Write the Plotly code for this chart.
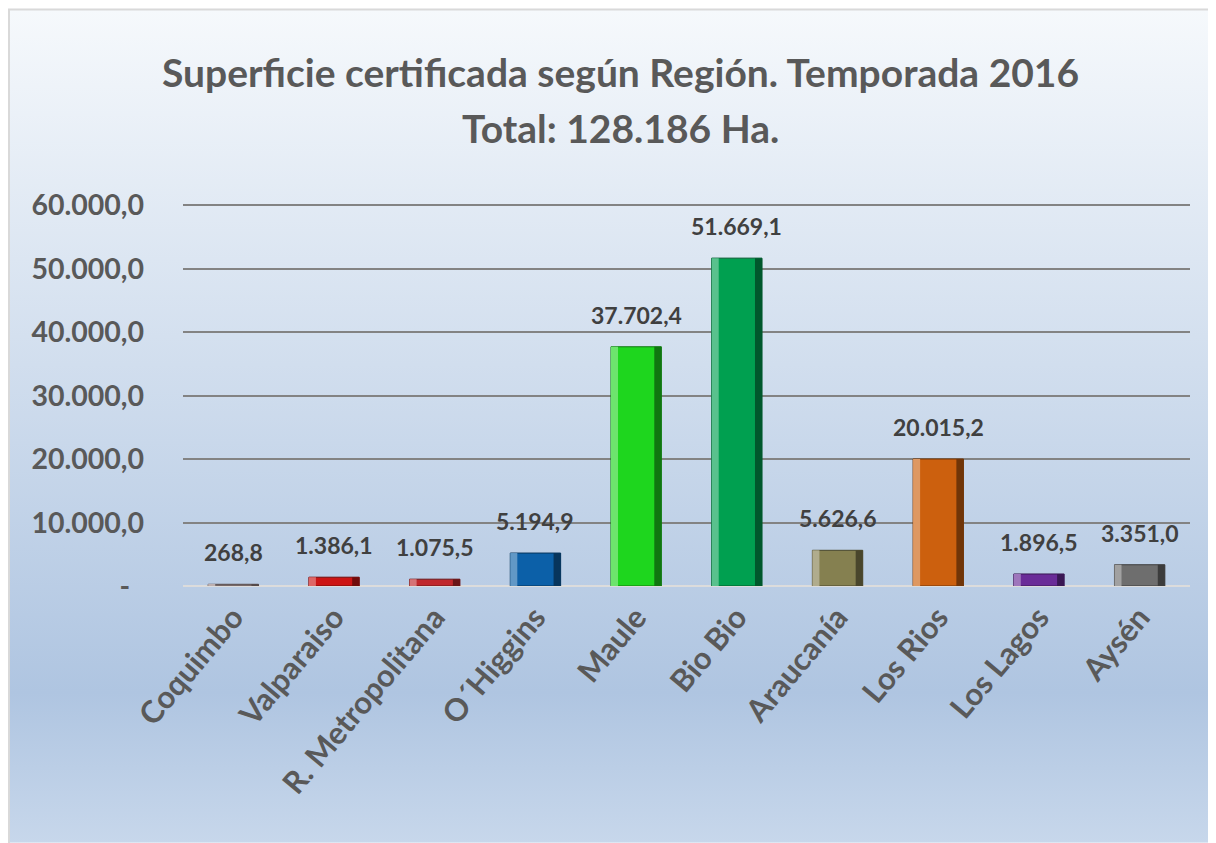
import base64
import plotly.graph_objects as go

categories = ["Coquimbo", "Valparaiso", "R. Metropolitana", "O´Higgins", "Maule",
              "Bio Bio", "Araucanía", "Los Rios", "Los Lagos", "Aysén"]
values = [268.8, 1386.1, 1075.5, 5194.9, 37702.4, 51669.1, 5626.6, 20015.2, 1896.5, 3351.0]
bar_colors = ["#9a8686", "#cc1414", "#c0282c", "#0c60a8", "#1ed61e",
              "#00a050", "#858050", "#cc600e", "#6a2c98", "#6e6e6e"]
tick_vals = [0, 10000, 20000, 30000, 40000, 50000, 60000]
tick_text = ["-\u00a0\u00a0", "10.000,0", "20.000,0", "30.000,0", "40.000,0", "50.000,0", "60.000,0"]
title_lines = ["Superficie certificada según Región. Temporada 2016", "Total: 128.186 Ha."]


def fmt(v):
    s = f"{v:,.1f}"
    return s.replace(",", "X").replace(".", ",").replace("X", ".")


def mix(hexc, target, t):
    h = hexc.lstrip("#")
    rgb = [int(h[i:i + 2], 16) for i in (0, 2, 4)]
    out = [round(c + (target - c) * t) for c in rgb]
    return "#%02x%02x%02x" % tuple(out)


# the page has an 8px body margin: figure origin sits at page (8, 8)
OFF = 8
W, H = 1216 - OFF, 843 - OFF
YMAX = 60200
base_px, top_px = 586 - OFF, 205 - OFF
ph = (base_px - top_px) * YMAX / 60000
L, R = 183 - OFF, 26
B = H - base_px
T = H - B - ph
pw = W - L - R
FONT = "Lato, 'Open Sans', sans-serif"
TXT = "#595959"

fig = go.Figure()
fig.add_trace(go.Bar(
    x=categories, y=values, width=0.5,
    marker=dict(color=bar_colors, line=dict(color=[mix(c, 0, 0.45) for c in bar_colors], width=1)),
    hoverinfo="x+y",
))
# bevel strips (light left edge, dark right edge)
fig.add_trace(go.Bar(
    x=categories, y=values, width=0.07, offset=-0.25,
    marker=dict(color=[mix(c, 255, 0.35) for c in bar_colors], line=dict(width=0)),
    hoverinfo="skip",
))
fig.add_trace(go.Bar(
    x=categories, y=values, width=0.07, offset=0.18,
    marker=dict(color=[mix(c, 0, 0.45) for c in bar_colors], line=dict(width=0)),
    hoverinfo="skip",
))

for c, v in zip(categories, values):
    fig.add_annotation(x=c, y=v, text=fmt(v), showarrow=False, yanchor="middle",
                       yshift=32, font=dict(family=FONT, size=23, color="#404040", weight="bold"))

svg = ('<svg xmlns="http://www.w3.org/2000/svg" width="1216" height="843" preserveAspectRatio="none">'
       '<defs><linearGradient id="g" x1="0" y1="0" x2="0" y2="1">'
       '<stop offset="0" stop-color="#f6f9fc"/><stop offset="0.82" stop-color="#afc5e1"/>'
       '<stop offset="1" stop-color="#c7d7eb"/></linearGradient></defs>'
       '<rect width="1216" height="843" fill="url(#g)"/></svg>')
src = "data:image/svg+xml;base64," + base64.b64encode(svg.encode()).decode()
fig.add_layout_image(source=src, xref="paper", yref="paper", x=-L / pw, y=(H - B) / ph,
                     sizex=W / pw, sizey=H / ph, sizing="stretch", xanchor="left",
                     yanchor="top", layer="below")


def px_x(p):
    return (p - OFF - L) / pw


def px_y(p):
    return (H - B - (p - OFF)) / ph


fig.add_shape(type="rect", xref="paper", yref="paper", x0=px_x(OFF + 1), x1=px_x(1211),
              y0=px_y(850), y1=px_y(OFF + 1), line=dict(color="#d9d9d9", width=2), layer="below")

for line, yp in zip(title_lines, [72, 128]):
    fig.add_annotation(xref="paper", yref="paper", x=px_x(620), y=px_y(yp), text=line,
                       showarrow=False, xanchor="center", yanchor="middle",
                       font=dict(family=FONT, size=39, color=TXT, weight="bold"))

fig.update_layout(
    width=W, height=H, margin=dict(l=L, r=R, t=T, b=B, pad=0),
    paper_bgcolor="white", plot_bgcolor="rgba(0,0,0,0)",
    showlegend=False, separators=",.", barmode="overlay",
    xaxis=dict(showgrid=False, tickangle=-50, ticklabelstandoff=6,
               tickfont=dict(family=FONT, size=31, color=TXT, weight="bold"),
               showline=False, zeroline=False),
    yaxis=dict(range=[0, YMAX], tickvals=tick_vals, ticktext=tick_text,
               showgrid=True, gridcolor="#838383", gridwidth=2,
               zeroline=True, zerolinecolor="#dcdcdc", zerolinewidth=2,
               ticklabelstandoff=38,
               tickfont=dict(family=FONT, size=28.5, color=TXT, weight="bold")),
)

fig.write_html("out.html")
